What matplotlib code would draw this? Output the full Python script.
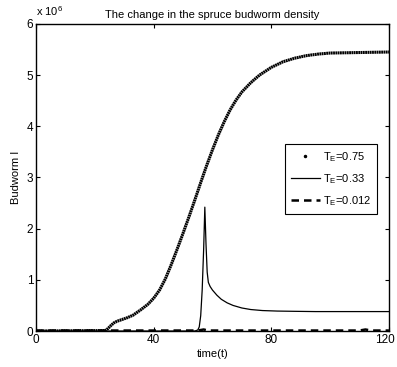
import matplotlib
matplotlib.use("Agg")
import matplotlib.pyplot as plt
import matplotlib.transforms as mtransforms
from matplotlib.lines import Line2D

plt.rcParams['font.family'] = ['Liberation Sans', 'DejaVu Sans']
plt.rcParams['mathtext.fontset'] = 'custom'
plt.rcParams['mathtext.rm'] = 'Liberation Sans'
plt.rcParams['mathtext.it'] = 'Liberation Sans:italic'

# --- Data (budworm density, in units of 1e6) ---
t_075 = [0, 23.5, 24.5, 25.5, 26.5, 27.5, 29, 31, 33, 35.5, 38, 40, 42, 44, 46,
         48, 50, 52, 54, 56, 58, 60, 62, 64, 66, 68, 70, 73, 76, 80, 84, 88,
         92, 96, 100, 110, 120]
i_075 = [0, 0.01, 0.05, 0.11, 0.16, 0.19, 0.22, 0.26, 0.31, 0.41, 0.52, 0.64,
         0.80, 1.02, 1.30, 1.60, 1.91, 2.23, 2.56, 2.90, 3.23, 3.54, 3.83, 4.09,
         4.32, 4.51, 4.67, 4.85, 5.00, 5.15, 5.26, 5.33, 5.38, 5.41, 5.43, 5.44,
         5.45]

t_033 = [0, 54, 55, 55.5, 56, 56.5, 57, 57.4, 57.8, 58.2, 58.6, 59.2, 60, 61.5,
         63, 65, 67, 70, 73, 77, 82, 88, 95, 105, 120]
i_033 = [0, 0, 0.02, 0.08, 0.30, 0.80, 1.60, 2.42, 1.70, 1.15, 0.95, 0.87, 0.80,
         0.70, 0.62, 0.55, 0.50, 0.45, 0.42, 0.40, 0.39, 0.385, 0.38, 0.38, 0.38]

t_0012 = [0, 55, 57, 58.5, 60, 110, 112, 114, 120]
i_0012 = [0.01, 0.01, 0.03, 0.01, 0.01, 0.01, 0.03, 0.01, 0.01]

labels = [r'T$_{\mathrm{E}}$=0.75', r'T$_{\mathrm{E}}$=0.33', r'T$_{\mathrm{E}}$=0.012']

fig = plt.figure(figsize=(3.97, 3.67), dpi=100)
ax = fig.add_axes([0.0907, 0.098, 0.889, 0.837])

ax.plot(t_075, i_075, color='k', lw=2.2, ls=(0, (0.6, 0.15)))
ax.plot(t_033, i_033, color='k', lw=0.9)
ax.plot(t_0012, i_0012, color='k', lw=1.8, ls=(0, (3, 2)))

ax.set_xlim(0, 120)
ax.set_ylim(0, 6)
ax.set_xticks([0, 40, 80, 120])
ax.set_yticks([0, 1, 2, 3, 4, 5, 6])
ax.tick_params(direction='in', length=3, width=0.8, labelsize=8.5, top=True, right=True, pad=2)
for s in ax.spines.values():
    s.set_linewidth(1.0)

# last x label sits against the figure edge, nudge it left a little
last = ax.get_xticklabels()[-1]
last.set_transform(last.get_transform() + mtransforms.ScaledTranslation(-4 / 100, 0, fig.dpi_scale_trans))

ax.set_title('The change in the spruce budworm density', fontsize=8, pad=4)
ax.set_xlabel('time(t)', fontsize=8, labelpad=2)
ax.set_ylabel('Budworm I', fontsize=8, labelpad=4)
fig.text(0.09, 0.950, r'x 10$^{6}$', fontsize=8, ha='left', va='bottom')

handles = [Line2D([], [], color='k', marker='.', ls='none', markersize=3),
           Line2D([], [], color='k', lw=0.9),
           Line2D([], [], color='k', lw=1.8, ls=(0, (3, 2)))]
leg = ax.legend(handles, labels, loc='upper left', bbox_to_anchor=(0.705, 0.61),
                fontsize=8, fancybox=False, edgecolor='k', framealpha=1,
                handlelength=2.6, handletextpad=0.3, borderpad=0.55, labelspacing=0.75,
                borderaxespad=0)
leg.get_frame().set_linewidth(0.8)

fig.savefig('out.png', dpi=100)
